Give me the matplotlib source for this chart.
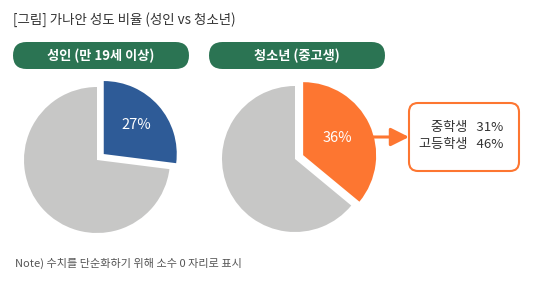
import matplotlib.pyplot as plt
from matplotlib.patches import FancyBboxPatch

plt.rcParams['font.family'] = ['Noto Sans CJK KR', 'DejaVu Sans']

# data
title = '[그림] 가나안 성도 비율 (성인 vs 청소년)'
groups = ['성인 (만 19세 이상)', '청소년 (중고생)']
shares = [27, 36]
detail_labels = ['중학생', '고등학생']
detail_values = [31, 46]
note = 'Note) 수치를 단순화하기 위해 소수 0 자리로 표시'

green = '#2b7453'
blue = '#2e5b97'
orange = '#fd7631'
gray = '#c7c7c6'

W, H = 534, 286
fig = plt.figure(figsize=(W / 100, H / 100), dpi=100)
ax = fig.add_axes([0, 0, 1, 1])

def Y(y):
    return H - y

centers = [(97, 160), (295, 159)]
pill_x = [13, 209]
colors = [blue, orange]

for i in range(2):
    cx, cy = centers[i]
    # explode is in data units here (pixels)
    ax.pie([shares[i], 100 - shares[i]], colors=[colors[i], gray],
           startangle=90, counterclock=False, explode=[9, 0],
           center=(cx, Y(cy)), radius=73,
           wedgeprops=dict(linewidth=0))
    # pill header
    ax.add_patch(FancyBboxPatch((pill_x[i], Y(69)), 176, 27,
                                boxstyle='round,pad=0,rounding_size=13.5',
                                facecolor=green, edgecolor='none'))
    ax.text(pill_x[i] + 88, Y(55.5), groups[i], color='white', fontsize=9.5,
            fontweight='bold', ha='center', va='center')

ax.text(136, Y(125), f'{shares[0]}%', color='white', fontsize=10.5, ha='center', va='center')
ax.text(337, Y(138), f'{shares[1]}%', color='white', fontsize=10.5, ha='center', va='center')

# arrow and detail box
ax.annotate('', xy=(409, Y(137)), xytext=(372, Y(137)),
            arrowprops=dict(arrowstyle='-|>,head_length=1.1,head_width=0.55',
                            color=orange, lw=2.2, shrinkA=0, shrinkB=0))
ax.add_patch(FancyBboxPatch((409, Y(171)), 110, 68,
                            boxstyle='round,pad=0,rounding_size=9',
                            facecolor='white', edgecolor=orange, linewidth=1.5))
for j, (lab, val) in enumerate(zip(detail_labels, detail_values)):
    ax.text(503, Y(127 + j * 17.5), f'{lab}   {val}%', color='#333333',
            fontsize=9.5, ha='right', va='center')

ax.text(13, Y(20), title, color='#333333', fontsize=9.7, ha='left', va='center')
ax.text(15, Y(263), note, color='#555555', fontsize=8, ha='left', va='center')

ax.set_xlim(0, W)
ax.set_ylim(0, H)
ax.set_aspect('equal')
ax.axis('off')

fig.savefig('out.png', dpi=100, facecolor='white')
